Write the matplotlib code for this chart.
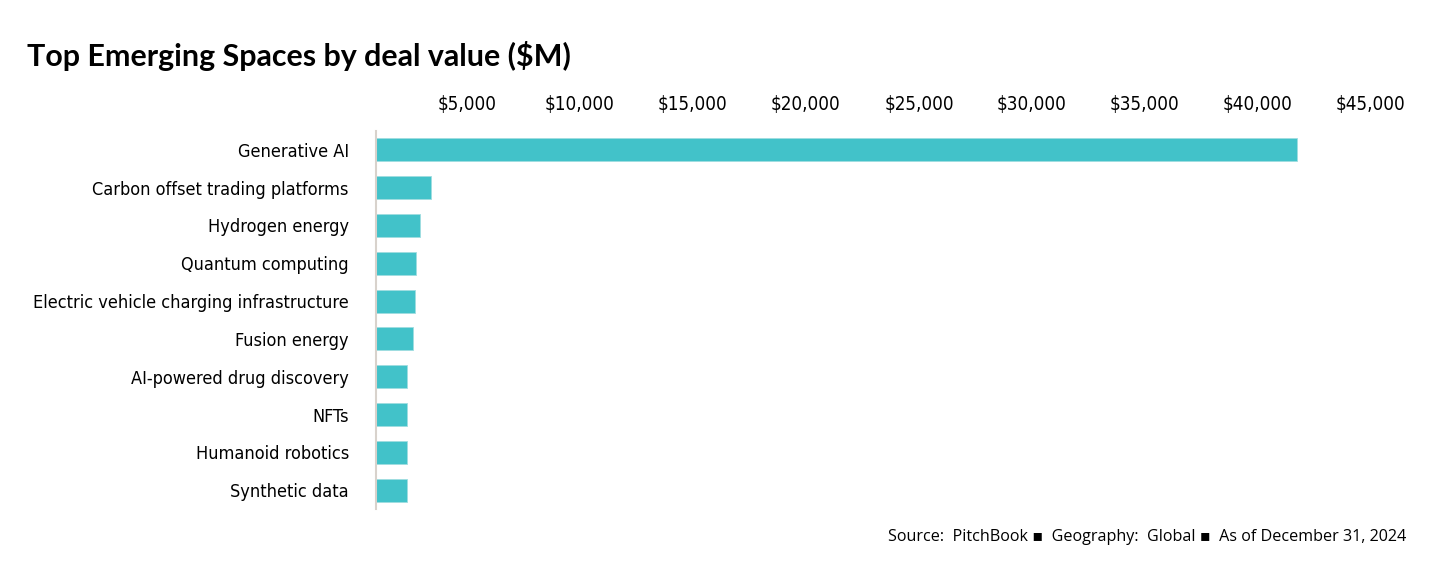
import matplotlib
matplotlib.use("Agg")
import matplotlib.pyplot as plt
import matplotlib.transforms as mtransforms
from matplotlib import font_manager

categories = [
    "Generative AI",
    "Carbon offset trading platforms",
    "Hydrogen energy",
    "Quantum computing",
    "Electric vehicle charging infrastructure",
    "Fusion energy",
    "AI-powered drug discovery",
    "NFTs",
    "Humanoid robotics",
    "Synthetic data",
]
deal_value = [40750, 2430, 1960, 1770, 1710, 1650, 1380, 1370, 1370, 1360]
tick_values = [5000, 10000, 15000, 20000, 25000, 30000, 35000, 40000, 45000]
tick_labels = ["${:,}".format(v) for v in tick_values]

fonts = font_manager.fontManager.ttflist

# look for a condensed face, else fall back to Roboto
condensed = [f.name for f in fonts
             if "condensed" in str(f.stretch).lower() or "Narrow" in f.name]
if condensed:
    lab_font = dict(family=condensed[0], fontstretch="condensed")
    ysize, xsize = 13, 13.5
else:
    lab_font = dict(family="Roboto")
    ysize, xsize = 12.5, 12.5

fig = plt.figure(figsize=(14.56, 5.76), dpi=100)
ax = fig.add_axes([0.2582, 0.1163, 0.6985, 0.6563])

y = list(range(len(categories)))
ax.barh(y, deal_value, height=0.61, color="#42C2C9", edgecolor="#9fdde0", linewidth=0.6)
ax.set_ylim(len(categories) - 0.5, -0.5)
ax.set_xlim(0, 45000)

ax.set_yticks(y)
ax.set_yticklabels(categories, fontsize=ysize, **lab_font)
ax.set_xticks(tick_values)
ax.set_xticklabels(tick_labels, fontsize=xsize, **lab_font)
ax.xaxis.tick_top()
ax.tick_params(axis="x", length=0, pad=12.5)
ax.tick_params(axis="y", length=0, pad=19.5)

# the original's labels sit a little left of their values
offset = mtransforms.ScaledTranslation(-22 / 100, 0, fig.dpi_scale_trans)
for lbl in ax.get_xticklabels():
    lbl.set_transform(lbl.get_transform() + offset)

for s in ["top", "right", "bottom"]:
    ax.spines[s].set_visible(False)
ax.spines["left"].set_color("#d8d2cc")
ax.spines["left"].set_linewidth(1.5)

title = fig.text(27 / 1456, 1 - 56 / 576, "Top Emerging Spaces by deal value ($M)",
                 fontsize=20, fontweight="bold", family=["Lato", "DejaVu Sans"],
                 va="center", ha="left")
# size the title to the reference width (~543 px)
r = fig.canvas.get_renderer()
wpx = title.get_window_extent(r).width
title.set_fontsize(20 * 543 / wpx)

fig.text(1406 / 1456, 1 - 537 / 576,
         "Source:  PitchBook \u25aa  Geography:  Global \u25aa  As of December 31, 2024",
         fontsize=11.6, family=["Open Sans", "DejaVu Sans"], fontstretch="normal",
         va="center", ha="right")

fig.savefig("out.png", dpi=100)
